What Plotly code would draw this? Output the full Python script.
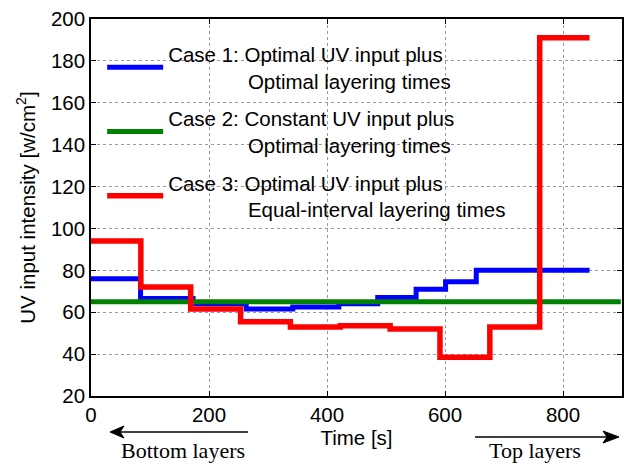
import plotly.graph_objects as go

# Layer boundary times [s] and UV input intensity per layer
case1_t = [0, 84, 173, 263, 342, 420, 486, 551, 601, 653, 845]
case1_u = [76, 66.5, 64, 61.5, 62.5, 64, 67, 71, 74.5, 80]

case2_t = [0, 898]
case2_u = [65]

case3_t = [0, 84.5, 169, 253.5, 338, 422.5, 507, 591.5, 676, 760.5, 845]
case3_u = [94, 72, 61.5, 55.5, 53, 53.5, 52, 38.5, 53, 191]

x_ticks = [0, 200, 400, 600, 800]
y_ticks = [20, 40, 60, 80, 100, 120, 140, 160, 180, 200]

def steps(t, u):
    return list(t), list(u) + [u[-1]]

NB = "\u00a0"
names = [
    "Case 1: Optimal UV input plus<br>" + NB * 14 + "Optimal layering times",
    "Case 2: Constant UV input plus<br>" + NB * 14 + "Optimal layering times",
    "Case 3: Optimal UV input plus<br>" + NB * 14 + "Equal-interval layering times",
]

fig = go.Figure()
for (t, u), color, name, w, g in [
    ((case1_t, case1_u), "#0000FF", names[0], 5, "a"),
    ((case2_t, case2_u), "#008000", names[1], 5, "b"),
    ((case3_t, case3_u), "#FF0000", names[2], 5.5, "c"),
]:
    x, y = steps(t, u)
    fig.add_trace(go.Scatter(x=x, y=y, mode="lines", line=dict(color=color, width=w, shape="hv"),
                             name=name, legendgroup=g))

FS = 20.5
font = dict(family="Liberation Sans, Arial, sans-serif", size=FS, color="black")
axis_common = dict(showline=True, linecolor="black", linewidth=1.5, mirror="allticks",
                   ticks="inside", ticklen=5, tickcolor="black",
                   showgrid=True, gridcolor="#9a9a9a", griddash="dot", gridwidth=1,
                   zeroline=False, tickfont=font, automargin=False)

fig.update_layout(
    width=624, height=463,
    margin=dict(l=91, r=2, t=19, b=67, autoexpand=False),
    paper_bgcolor="white", plot_bgcolor="white",
    font=font,
    showlegend=True,
    legend=dict(x=0.021, y=0.96, xanchor="left", yanchor="top", bgcolor="rgba(0,0,0,0)",
                font=dict(family="Liberation Sans, Arial, sans-serif", size=FS, color="black"),
                traceorder="grouped", tracegroupgap=8, itemwidth=56),
    xaxis=dict(range=[0, 900], tickvals=x_ticks, **axis_common,
               title=dict(text="Time [s]", font=font, standoff=5)),
    yaxis=dict(range=[20, 200], tickvals=y_ticks, **axis_common,
               title=dict(text="UV input intensity [w/cm<sup>2</sup>]", font=font, standoff=10)),
)

# pixel -> paper helpers for the decorative arrows below the axis
PW, PH, L0, B0 = 531.0, 377.0, 91.0, 396.0
def px(xp):
    return (xp - L0) / PW
def py(yp):
    return (B0 - yp) / PH

# Left arrow (Bottom layers)
fig.add_shape(type="line", xref="paper", yref="paper", x0=px(114), x1=px(248), y0=py(432), y1=py(432),
              line=dict(color="black", width=1.5))
fig.add_shape(type="path", xref="paper", yref="paper",
              path=f"M {px(110)},{py(432)} L {px(124)},{py(426)} L {px(120)},{py(432)} L {px(124)},{py(438)} Z",
              fillcolor="black", line=dict(color="black", width=1))
# Right arrow (Top layers)
fig.add_shape(type="line", xref="paper", yref="paper", x0=px(475), x1=px(606), y0=py(437), y1=py(437),
              line=dict(color="black", width=1.5))
fig.add_shape(type="path", xref="paper", yref="paper",
              path=f"M {px(619)},{py(437)} L {px(603)},{py(431)} L {px(607)},{py(437)} L {px(603)},{py(443)} Z",
              fillcolor="black", line=dict(color="black", width=1))

serif = dict(family="Liberation Serif, Times New Roman, serif", size=22, color="black")
fig.add_annotation(xref="paper", yref="paper", x=px(183), y=py(450), text="Bottom layers",
                   showarrow=False, font=serif, xanchor="center", yanchor="middle", borderpad=0)
fig.add_annotation(xref="paper", yref="paper", x=px(535), y=py(450), text="Top layers",
                   showarrow=False, font=serif, xanchor="center", yanchor="middle", borderpad=0)

fig.write_html("out.html", config={"displayModeBar": False},
               post_script="document.body.style.margin='0';")
